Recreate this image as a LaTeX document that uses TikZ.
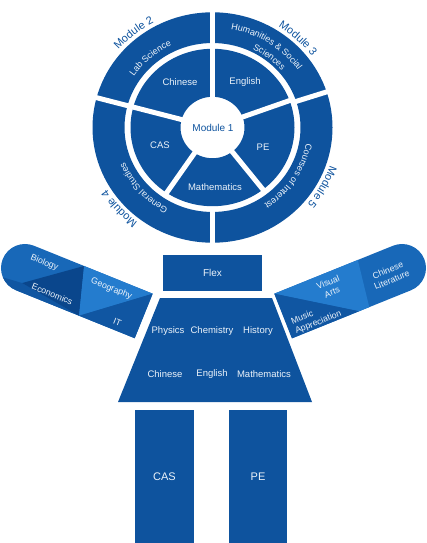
\documentclass[tikz,border=0pt]{standalone}
\usepackage{fontspec}
\setmainfont{Liberation Sans}
\usetikzlibrary{decorations.text}
\definecolor{mainblue}{RGB}{14,83,158}
\definecolor{armmid}{RGB}{24,104,184}
\definecolor{armlight}{RGB}{36,124,206}
\definecolor{armdark}{RGB}{16,86,162}
\definecolor{armdarker}{RGB}{10,70,140}
\definecolor{txt}{RGB}{236,243,250}
\begin{document}
\begin{tikzpicture}[x=1pt,y=1pt,
  lbl/.style={text=txt,font=\fontsize{9.5}{11}\selectfont,inner sep=0pt},
  armlbl/.style={text=txt,font=\fontsize{8.8}{10.6}\selectfont,inner sep=0pt,align=center},
  bodybox/.style={fill=mainblue,text=txt,inner sep=0pt,font=\fontsize{10}{12}\selectfont},
  gap/.style={white,line width=5pt},
  arctext/.style={decorate,decoration={text along path,text align=center,text={#1}}}]
\useasboundingbox (0,0) rectangle (427,-543);

% ---------- circle ----------
\begin{scope}[shift={(212.5,-127.5)},yscale=0.96]
  \fill[mainblue,even odd rule] (0,0) circle[radius=120] (0,0) circle[radius=88];
  \fill[mainblue,even odd rule] (0,0) circle[radius=82] (0,0) circle[radius=32];
  \foreach \a in {90,165,270,18} \draw[gap] (\a:84) -- (\a:124);
  \foreach \a in {90,165,236,308,20} \draw[gap] (\a:29) -- (\a:85);
  % outer ring texts
  \path[arctext={|\color{txt}\fontsize{9}{10}\selectfont|Lab Science}]
    (165:95) arc[start angle=165,end angle=97,radius=95];
  \path[arctext={|\color{txt}\fontsize{9}{10}\selectfont|Humanities {\&} Social}]
    (100:104) arc[start angle=100,end angle=14,radius=104];
  \path[arctext={|\color{txt}\fontsize{9}{10}\selectfont|Sciences}]
    (80:91) arc[start angle=80,end angle=24,radius=91];
  \path[arctext={|\color{txt}\fontsize{9}{10}\selectfont|General Studies}]
    (262:95) arc[start angle=262,end angle=182,radius=95];
  \path[arctext={|\color{txt}\fontsize{9}{10}\selectfont|Courses of Interest}]
    (15:95) arc[start angle=15,end angle=-81,radius=95];
  % module labels outside
  \path[arctext={|\color{mainblue}\fontsize{11}{12}\selectfont|Module 2}]
    (160:124) arc[start angle=160,end angle=98,radius=124];
  \path[arctext={|\color{mainblue}\fontsize{11}{12}\selectfont|Module 3}]
    (80:124) arc[start angle=80,end angle=14,radius=124];
  \path[arctext={|\color{mainblue}\fontsize{11}{12}\selectfont|Module 4}]
    (252:124) arc[start angle=252,end angle=192,radius=124];
  \path[arctext={|\color{mainblue}\fontsize{11}{12}\selectfont|Module 5}]
    (5:124) arc[start angle=5,end angle=-63,radius=124];
\end{scope}
\node[text=mainblue,font=\fontsize{10}{12}\selectfont,inner sep=0pt] (m1) at (213,-128) {Module 1};
\node[lbl] (cchinese) at (180,-82) {Chinese};
\node[lbl] (cenglish) at (245,-82) {English};
\node[lbl] (ccas) at (160,-145) {CAS};
\node[lbl] (cpe) at (263,-147) {PE};
\node[lbl] (cmath) at (215,-187) {Mathematics};

% ---------- left arm ----------
\begin{scope}[shift={(25,-268)},rotate=-22]
  \fill[armmid] (0,24) arc[start angle=90,end angle=270,radius=24] -- (128,-24) -- (128,24) -- cycle;
  \fill[armdark] (3,-15) -- (68,-24) -- (0,-24) arc[start angle=270,end angle=225,radius=24] -- cycle;
  \fill[armdarker] (3,-15) -- (54,24) -- (68,-24) -- cycle;
  \fill[armlight] (54,24) -- (128,24) -- (68,-24) -- cycle;
  \fill[armdark] (68,-24) -- (128,24) -- (128,-24) -- cycle;
  \node[armlbl,rotate=-22] (bio) at (16,12) {Biology};
  \node[armlbl,rotate=-22] (eco) at (35,-14) {Economics};
  \node[armlbl,rotate=-22] (geo) at (88,13) {Geography};
  \node[armlbl,rotate=-22] (it) at (106,-16) {IT};
\end{scope}

% ---------- right arm ----------
\begin{scope}[shift={(402,-268)},rotate=22]
  \fill[armmid] (0,24) arc[start angle=90,end angle=-90,radius=24] -- (-128,-24) -- (-128,24) -- cycle;
  \fill[armlight] (-38,24) -- (-128,24) -- (-56,-24) -- (-45,-24) -- cycle;
  \fill[armdark] (-128,24) -- (-128.5,-24) -- (-56,-24) -- cycle;
  \node[armlbl,rotate=22] (clit) at (-14,-2) {Chinese\\Literature};
  \node[armlbl,rotate=22] (visual) at (-74,9) {Visual\\Arts};
  \node[armlbl,rotate=22,align=left] (music) at (-98,-14) {Music\\Appreciation};
\end{scope}

% ---------- body ----------
\node[bodybox,minimum width=99pt,minimum height=36pt] (flex) at (212.5,-273) {Flex};
\fill[mainblue] (160,-298) -- (272,-298) -- (312,-402) -- (118,-402) -- cycle;
\node[lbl] (phys) at (168,-331) {Physics};
\node[lbl] (chem) at (212,-331) {Chemistry};
\node[lbl] (hist) at (258,-331) {History};
\node[lbl] (bchin) at (165,-374) {Chinese};
\node[lbl] (beng) at (212,-374) {English};
\node[lbl] (bmath) at (264,-374) {Mathematics};
\node[bodybox,minimum width=59pt,minimum height=133pt,font=\fontsize{11}{13}\selectfont] (lcas) at (164.5,-476.5) {CAS};
\node[bodybox,minimum width=58pt,minimum height=133pt,font=\fontsize{11}{13}\selectfont] (lpe) at (258,-476.5) {PE};
\end{tikzpicture}
\end{document}
